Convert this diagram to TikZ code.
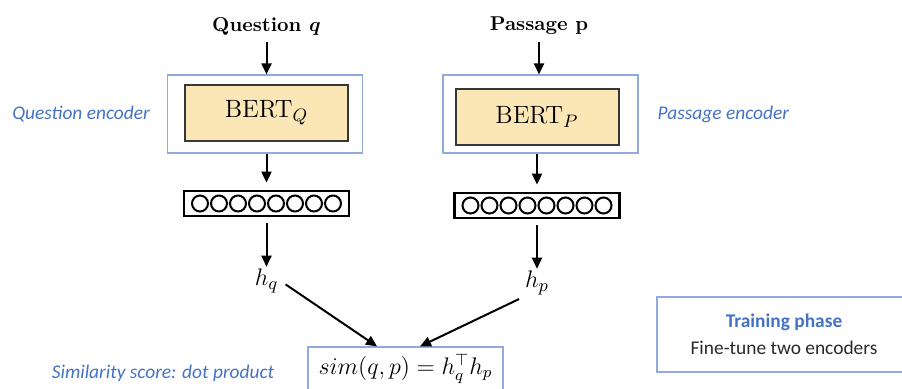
\documentclass[tikz,border=0pt]{standalone}
\usepackage{amsmath}
\usepackage{fontspec}
\setsansfont{Carlito}
\usepackage{tikz}
\usetikzlibrary{arrows.meta, positioning, calc}
\definecolor{myblue}{RGB}{68,114,196}
\definecolor{myframe}{RGB}{143,170,220}
\definecolor{mytan}{RGB}{251,230,182}
\definecolor{mydark}{RGB}{55,55,55}
\definecolor{mytext}{RGB}{40,40,40}
\tikzset{
  encbox/.style={rectangle, draw=myframe, line width=0.6pt,
    minimum width=97.5pt, minimum height=39pt},
  bertbox/.style={rectangle, draw=mydark, fill=mytan, line width=1pt,
    minimum width=81.5pt, minimum height=28pt,
    font=\fontsize{12.5}{15}\selectfont},
  vecbox/.style={rectangle, draw=black, line width=1.4pt,
    minimum width=82.5pt, minimum height=12.5pt},
  simbox/.style={rectangle, draw=myframe, line width=0.6pt,
    minimum width=97.5pt, minimum height=22pt,
    font=\fontsize{12}{14}\selectfont},
  bluelabel/.style={font=\sffamily\itshape\fontsize{9.7}{12}\selectfont,
    text=myblue},
  title/.style={font=\bfseries\fontsize{10}{12}\selectfont},
  hvec/.style={font=\fontsize{12.5}{14}\selectfont, inner sep=1pt},
  arrow/.style={-{Triangle[length=5.5pt,width=5pt]}, line width=1pt, color=black}
}

\begin{document}
\begin{tikzpicture}[x=0.5pt, y=-0.5pt]
  \useasboundingbox (0,0) rectangle (902,388);
  \clip (0,0) rectangle (902,388);

  % Question side
  \node[title] (qin) at (266.5,26) {Question $\boldsymbol{q}$};
  \node[encbox] (qenc) at (265,114) {};
  \node[bertbox] (bertq) at (266.5,113) {BERT$_Q$};
  \node[vecbox] (vq) at (266.5,203.5) {};
  \foreach \i in {0,...,7}
    \draw[line width=1pt] ($(vq.center)+(-66.5+19*\i,0)$) circle (4pt);
  \node[hvec] (hq) at (266.5,281) {$h_q$};
  \node[bluelabel, left=5pt of qenc] (qlab) {Question encoder};

  % Passage side
  \node[title] (pin) at (539,26) {Passage \textbf{p}};
  \node[encbox] (penc) at (540.5,114) {};
  \node[bertbox] (bertp) at (537,116.5) {BERT$_P$};
  \node[vecbox] (vp) at (537,205.5) {};
  \foreach \i in {0,...,7}
    \draw[line width=1pt] ($(vp.center)+(-66.5+19*\i,0)$) circle (4pt);
  \node[hvec] (hp) at (537,283) {$h_p$};
  \node[bluelabel, right=6pt of penc] (plab) {Passage encoder};

  % Similarity and training note
  \node[simbox] (sim) at (405.5,369) {$sim(q,p) = h_q^{\top} h_p$};
  \node[bluelabel] (simlab) at (163,373) {Similarity score: dot product};
  \node[rectangle, draw=myframe, line width=0.6pt, minimum width=127pt,
    minimum height=37.5pt, align=center, text=mytext,
    font=\sffamily\fontsize{9.7}{13.5}\selectfont] (train) at (784,334.5)
    {\textcolor{myblue}{\bfseries Training phase}\\ Fine-tune two encoders};

  % Arrows
  \draw[arrow] (qin) -- (qin |- qenc.north);
  \draw[arrow, shorten >=3.5pt] (qenc.south -| vq) -- (vq);
  \draw[arrow, shorten <=3pt] (vq) -- (hq);
  \draw[arrow] (pin) -- (pin |- penc.north);
  \draw[arrow, shorten >=3.5pt] (penc.south -| vp) -- (vp);
  \draw[arrow, shorten <=3pt] (vp) -- (hp);
  \draw[arrow, shorten <=3pt] (hq.east) -- ($(sim.north)+(-28.5,0)$);
  \draw[arrow, shorten <=2pt] (hp.south west) -- ($(sim.north)+(14.5,0)$);
\end{tikzpicture}
\end{document}
